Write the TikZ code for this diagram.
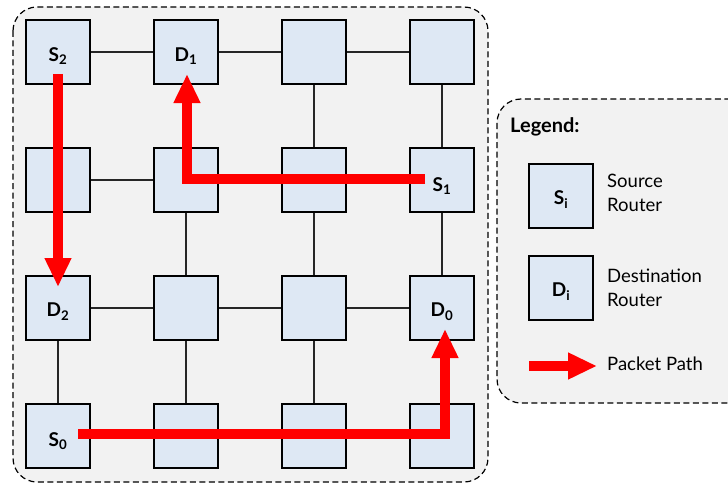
\documentclass[tikz,border=0pt]{standalone}
\usepackage{fontspec}
\setmainfont{Lato}
\usetikzlibrary{arrows.meta,calc}
\definecolor{bgray}{HTML}{F2F2F2}
\definecolor{rfill}{HTML}{DEE8F4}
\definecolor{pred}{HTML}{FF0000}
\tikzset{
  router/.style={draw=black, line width=1.3pt, fill=rfill, minimum size=64pt, inner sep=0pt, font=\fontsize{19}{21}\selectfont\bfseries},
  rlabel/.style={font=\fontsize{19}{21}\selectfont\bfseries, inner sep=0pt},
  link/.style={line width=1.1pt, draw=black!85},
  frame/.style={draw=black, line width=1.2pt, dash pattern=on 6pt off 3.5pt, fill=bgray, rounded corners=24pt},
  ppath/.style={draw=pred, line width=10pt, line cap=butt, line join=miter, -{Triangle[width=25pt,length=29pt]}},
  ltext/.style={font=\fontsize{18.5}{24}\selectfont, align=left, anchor=west, inner sep=0pt}
}
\begin{document}
\begin{tikzpicture}[x=1pt,y=-1pt]
\useasboundingbox (0,0) rectangle (728,487);
\clip (0,0) rectangle (728,487);
\path[frame] (13,7) rectangle (488,482);
\path[frame] (497,99) rectangle (760,403);
% grid routers
\foreach \r/\y in {1/52,2/180,3/308,4/436}{
  \foreach \c/\x in {1/58,2/186,3/314,4/442}{
    \node[router] (n\r\c) at (\x,\y) {};
  }
}
% links
\foreach \r in {1,2,3,4}{
  \draw[link] (n\r1) -- (n\r2); \draw[link] (n\r2) -- (n\r3); \draw[link] (n\r3) -- (n\r4);
}
\foreach \c in {1,2,3,4}{
  \draw[link] (n1\c) -- (n2\c); \draw[link] (n2\c) -- (n3\c); \draw[link] (n3\c) -- (n4\c);
}
% redraw routers on top of links
\foreach \r/\y in {1/52,2/180,3/308,4/436}{
  \foreach \c/\x in {1/58,2/186,3/314,4/442}{
    \node[router] at (\x,\y) {};
  }
}
% labels
\node[rlabel] (l11) at (58,56) {S\textsubscript{2}};
\node[rlabel] (l12) at (186,56) {D\textsubscript{1}};
\node[rlabel] (l24) at (442,186) {S\textsubscript{1}};
\node[rlabel] (l31) at (58,312) {D\textsubscript{2}};
\node[rlabel] (l34) at (442,312) {D\textsubscript{0}};
\node[rlabel] (l41) at (58,441) {S\textsubscript{0}};
% path coordinates
\coordinate (a0) at (58,74);
\coordinate (a1) at (58,287);
\coordinate (b0) at (425,179);
\coordinate (b1) at (187,179);
\coordinate (b2) at (187,74);
\coordinate (c0) at (78,434);
\coordinate (c1) at (445,434);
\coordinate (c2) at (445,329);
\draw[ppath] (a0) -- (a1);
\draw[ppath] (b0) -- (b1) -- (b2);
\draw[ppath] (c0) -- (c1) -- (c2);
% legend
\node[font=\fontsize{20}{22}\selectfont\bfseries, anchor=west, inner sep=0pt] (lg) at (510,127) {Legend:};
\node[router] (ls) at (561,196) {};
\node[router] (ld) at (561,288) {};
\node[rlabel] (lsl) at (561,200) {S\textsubscript{i}};
\node[rlabel] (ldl) at (561,292) {D\textsubscript{i}};
\node[ltext] (lst) at (607,193) {Source\\Router};
\node[ltext] (ldt) at (607,288) {Destination\\Router};
\coordinate (p0) at (529,366);
\coordinate (p1) at (597,366);
\draw[ppath] (p0) -- (p1);
\node[ltext] (lpt) at (607,364) {Packet Path};
\end{tikzpicture}
\end{document}
